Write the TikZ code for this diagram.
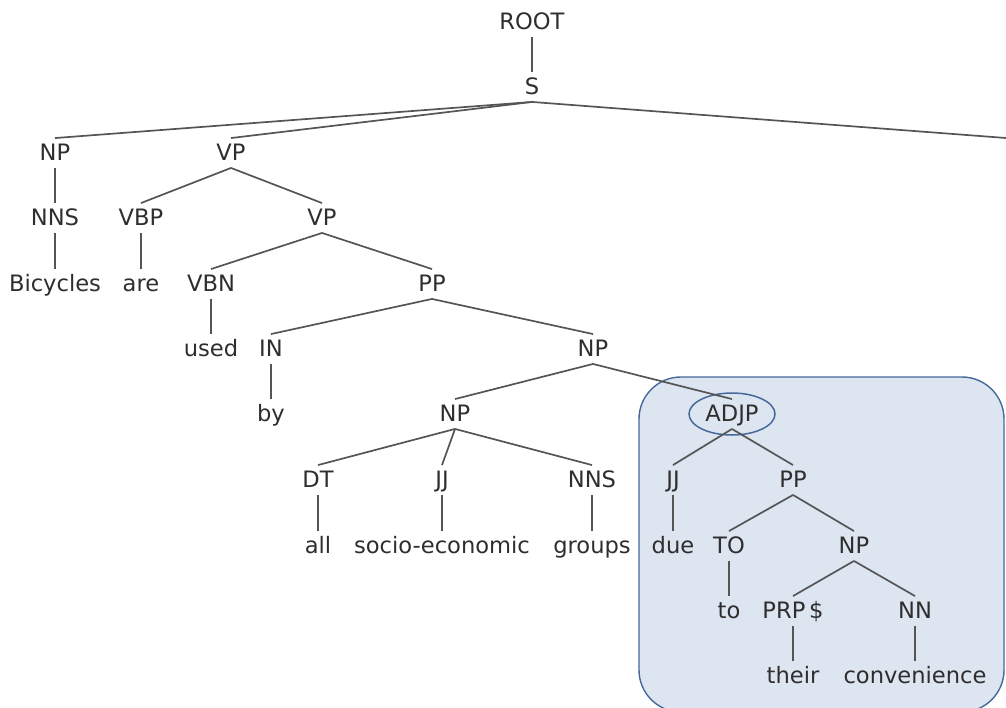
\documentclass[tikz,border=0pt]{standalone}
\usepackage{fontspec}
\setmainfont{DejaVu Sans}
\definecolor{labelgray}{HTML}{2E2E2E}
\definecolor{edgegray}{HTML}{555555}
\definecolor{hlfill}{HTML}{DDE5F1}
\definecolor{hlborder}{HTML}{44699A}
\begin{document}
\begin{tikzpicture}[x=1pt,y=-1pt,
  lab/.style={font=\fontsize{22.6pt}{24pt}\selectfont, text=labelgray,
    inner xsep=0pt, inner ysep=7pt, text height=15.5pt, text depth=0pt},
  edge/.style={draw=edgegray, line width=1.7pt},
  hlbox/.style={fill=hlfill, draw=hlborder, line width=1.4pt, rounded corners=42pt},
  hlring/.style={draw=hlborder, line width=1.5pt}]
\useasboundingbox (0,0) rectangle (1006,707);

% highlighted subtree background
\begin{scope}
\clip (0,0) rectangle (1006,707);
\path[hlbox] (639,377) rectangle (1004,712);
\end{scope}

% nodes
\node[lab] (root) at (532,22) {ROOT};
\node[lab] (s) at (532,87) {S};
\node[lab] (np1) at (55,153) {NP};
\node[lab] (vp1) at (231,153) {VP};
\node[lab] (nns1) at (55,218) {NNS};
\node[lab] (vbp) at (141,218) {VBP};
\node[lab] (vp2) at (322,218) {VP};
\node[lab] (bicycles) at (55,284) {Bicycles};
\node[lab] (are) at (141,284) {are};
\node[lab] (vbn) at (211,284) {VBN};
\node[lab] (pp1) at (432,284) {PP};
\node[lab] (used) at (211,349) {used};
\node[lab] (in) at (271,349) {IN};
\node[lab] (np2) at (593,349) {NP};
\node[lab] (by) at (271,414) {by};
\node[lab] (np3) at (455,414) {NP};
\node[lab] (adjp) at (732,414) {ADJP};
\node[lab] (dt) at (318,480) {DT};
\node[lab] (jj1) at (442,480) {JJ};
\node[lab] (nns2) at (592,480) {NNS};
\node[lab] (jj2) at (673,480) {JJ};
\node[lab] (pp2) at (793,480) {PP};
\node[lab] (all) at (318,546) {all};
\node[lab] (socio) at (442,546) {socio-economic};
\node[lab] (groups) at (592,546) {groups};
\node[lab] (due) at (673,546) {due};
\node[lab] (to1) at (729,546) {TO};
\node[lab] (np4) at (854,546) {NP};
\node[lab] (to2) at (729,611) {to};
\node[lab] (prp) at (793,611) {PRP\,\$};
\node[lab] (nn) at (915,611) {NN};
\node[lab] (their) at (793,676) {their};
\node[lab] (conv) at (915,676) {convenience};
\coordinate (offright) at (1006,138);

% ring around the ADJP label
\draw[hlring] (adjp) ellipse (43pt and 21pt);

% tree edges
\draw[edge] (root.south) -- (s.north);
\draw[edge] (s.south) -- (np1.north);
\draw[edge] (s.south) -- (vp1.north);
\draw[edge] (s.south) -- (offright);
\draw[edge] (np1.south) -- (nns1.north);
\draw[edge] (nns1.south) -- (bicycles.north);
\draw[edge] (vp1.south) -- (vbp.north);
\draw[edge] (vp1.south) -- (vp2.north);
\draw[edge] (vbp.south) -- (are.north);
\draw[edge] (vp2.south) -- (vbn.north);
\draw[edge] (vp2.south) -- (pp1.north);
\draw[edge] (vbn.south) -- (used.north);
\draw[edge] (pp1.south) -- (in.north);
\draw[edge] (pp1.south) -- (np2.north);
\draw[edge] (in.south) -- (by.north);
\draw[edge] (np2.south) -- (np3.north);
\draw[edge] (np2.south) -- (adjp.north);
\draw[edge] (np3.south) -- (dt.north);
\draw[edge] (np3.south) -- (jj1.north);
\draw[edge] (np3.south) -- (nns2.north);
\draw[edge] (dt.south) -- (all.north);
\draw[edge] (jj1.south) -- (socio.north);
\draw[edge] (nns2.south) -- (groups.north);
\draw[edge] (adjp.south) -- (jj2.north);
\draw[edge] (adjp.south) -- (pp2.north);
\draw[edge] (jj2.south) -- (due.north);
\draw[edge] (pp2.south) -- (to1.north);
\draw[edge] (pp2.south) -- (np4.north);
\draw[edge] (to1.south) -- (to2.north);
\draw[edge] (np4.south) -- (prp.north);
\draw[edge] (np4.south) -- (nn.north);
\draw[edge] (prp.south) -- (their.north);
\draw[edge] (nn.south) -- (conv.north);
\end{tikzpicture}
\end{document}
